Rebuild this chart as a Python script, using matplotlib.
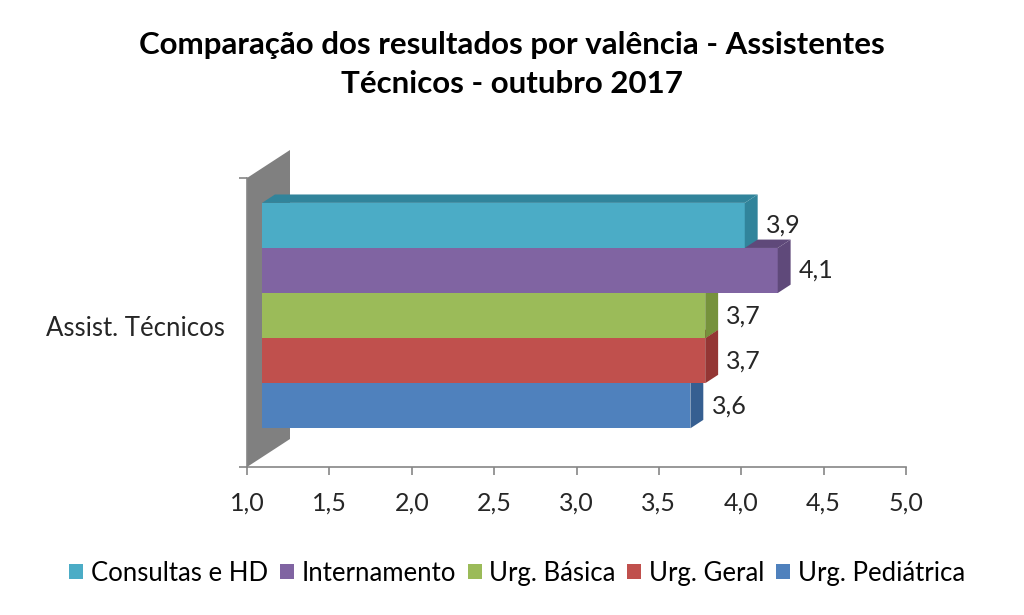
import matplotlib.pyplot as plt
from matplotlib.patches import Polygon, Patch

# === Data (top to bottom as drawn) === #
series = ["Consultas e HD", "Internamento", "Urg. Básica", "Urg. Geral", "Urg. Pediátrica"]
values = [3.93, 4.13, 3.69, 3.69, 3.6]
category = "Assist. Técnicos"
xticks = [1.0, 1.5, 2.0, 2.5, 3.0, 3.5, 4.0, 4.5, 5.0]

front_colors = ["#4BACC6", "#8064A2", "#9BBB59", "#C0504D", "#4F81BD"]
dark_colors = ["#31849B", "#5F497A", "#76923C", "#943634", "#365F91"]

plt.rcParams['font.family'] = ['Lato', 'DejaVu Sans']

fig = plt.figure(figsize=(10.24, 6.15), dpi=100)
ax = fig.add_axes([247 / 1024, 148 / 615, 659 / 1024, 289 / 615])
ax.set_xlim(1, 5)
ax.set_ylim(0, 1)

# depth of the 3D box in data units
Dx = 43 / 164.75
Dy = 28 / 289
f, b = 0.35, 0.65

# back wall
wall = Polygon([(1, 0), (1, 1), (1 + Dx, 1 + Dy), (1 + Dx, Dy)],
               closed=True, facecolor="#808080", edgecolor="none", zorder=1, clip_on=False)
ax.add_patch(wall)

h = 0.156
y_bottom = 0.1
n = len(series)
# draw from lowest bar up, so upper bars cover lower ones
for k in range(n - 1, -1, -1):
    val = values[k]
    y0 = y_bottom + (n - 1 - k) * h
    y1 = y0 + h
    z = 2 + (n - 1 - k)
    ax.barh(y0 + h / 2 + f * Dy, val - 1, left=1 + f * Dx, height=h,
            color=front_colors[k], edgecolor="none", zorder=z + 0.5)
    top = Polygon([(1 + f * Dx, y1 + f * Dy), (val + f * Dx, y1 + f * Dy),
                   (val + b * Dx, y1 + b * Dy), (1 + b * Dx, y1 + b * Dy)],
                  closed=True, facecolor=dark_colors[k], edgecolor="none", zorder=z, clip_on=False)
    side = Polygon([(val + f * Dx, y0 + f * Dy), (val + b * Dx, y0 + b * Dy),
                    (val + b * Dx, y1 + b * Dy), (val + f * Dx, y1 + f * Dy)],
                   closed=True, facecolor=dark_colors[k], edgecolor="none", zorder=z + 0.5, clip_on=False)
    ax.add_patch(top)
    ax.add_patch(side)
    ax.text(val + b * Dx + 0.05, y0 + h / 2 + f * Dy, f"{val:.1f}".replace('.', ','),
            fontsize=18, va="center", ha="left", color="#262626", zorder=20)

# axes styling
for s in ["top", "right"]:
    ax.spines[s].set_visible(False)
ax.spines["left"].set_color("#868686")
ax.spines["bottom"].set_color("#868686")
ax.spines["left"].set_linewidth(1.2)
ax.spines["bottom"].set_linewidth(1.2)
ax.set_xticks(xticks)
ax.set_xticklabels([f"{t:.1f}".replace('.', ',') for t in xticks], fontsize=18, color="#262626")
ax.set_yticks([0, 1])
ax.set_yticklabels([])
ax.tick_params(axis="both", color="#868686", length=6, width=1.2)
ax.tick_params(axis="x", pad=12)
ax.set_facecolor("none")

ax.text(-0.033, 0.48, category, transform=ax.transAxes, ha="right", va="center",
        fontsize=18.5, color="#262626")

fig.suptitle("Comparação dos resultados por valência - Assistentes\nTécnicos - outubro 2017",
             fontsize=22.5, fontweight="bold", y=0.95, linespacing=1.5)

handles = [Patch(facecolor=c, edgecolor="none") for c in front_colors]
fig.legend(handles, series, loc="center", bbox_to_anchor=(0.505, 0.068), ncol=5, frameon=False,
           fontsize=18.5, handlelength=0.55, handleheight=0.55, handletextpad=0.3, columnspacing=0.45)

fig.savefig("out.png", dpi=100, facecolor="white")
